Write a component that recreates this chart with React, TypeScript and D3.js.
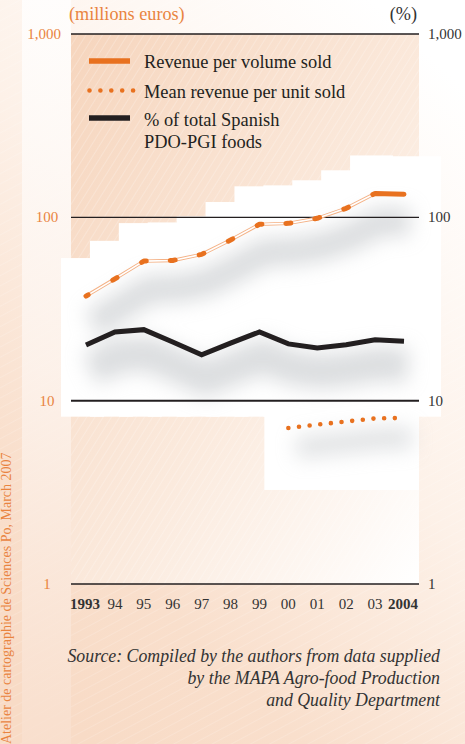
import React from "react";
import * as d3 from "d3";

const years = ["1993", "94", "95", "96", "97", "98", "99", "00", "01", "02", "03", "2004"];
const revenue = [37.2, 46.2, 57.7, 58.2, 62.8, 75.2, 91.6, 92.7, 98.8, 112, 135, 133.6];
const shareSpanish = [20.1, 23.7, 24.4, 20.9, 17.8, 20.6, 23.7, 20.4, 19.4, 20.2, 21.5, 21.1];
const meanYears = ["00", "01", "02", "03", "2004"];
const meanRevenue = [7.1, 7.4, 7.7, 8.0, 8.05];
const tickValues = [1000, 100, 10, 1];
const tickLabels = ["1,000", "100", "10", "1"];
const legendItems = ["Revenue per volume sold", "Mean revenue per unit sold", "% of total Spanish", "PDO-PGI foods"];
const sourceLines = [
  "Source: Compiled by the authors from data supplied",
  "by the MAPA Agro-food Production",
  "and Quality Department",
];

const W = 465;
const H = 744;
const left = 71;
const right = 419;
const orange = "#e8711f";
const labelOrange = "#e9843f";
const dark = "#231f20";
const font = "Liberation Serif";

const App = () => {
  const x = d3.scalePoint<string>().domain(years).range([86, 404]);
  const y = d3.scaleLog().domain([1, 1000]).range([584, 34]);

  const revPts: [number, number][] = revenue.map((v, i) => [x(years[i])!, y(v)]);
  const pctPts: [number, number][] = shareSpanish.map((v, i) => [x(years[i])!, y(v)]);
  const meanPts: [number, number][] = meanRevenue.map((v, i) => [x(meanYears[i])!, y(v)]);

  const line = d3.line();
  const revPath = line(revPts)!;
  const pctPath = line(pctPts)!;
  const meanPath = line(meanPts)!;

  // dashes centred on each yearly point, last segment solid
  const h = 2.5;
  const lens = revPts.slice(1).map((p, i) => Math.hypot(p[0] - revPts[i][0], p[1] - revPts[i][1]));
  const dash: number[] = [h];
  for (let k = 0; k < lens.length - 2; k++) dash.push(lens[k] - 2 * h, 2 * h);
  dash.push(lens[lens.length - 2] - 2 * h, h + lens[lens.length - 1]);

  // white backing blocks following the series
  const blocks = years.map((yr, i) => {
    const cx = x(yr)!;
    const top = y(revenue[i]) - 38;
    const bottom = y(10) + 16;
    const x1 = i === years.length - 1 ? right + 22 : cx + 18;
    return { x0: cx - 25, x1, top, bottom };
  });
  const meanBlock = {
    x0: x("00")! - 24,
    x1: right,
    top: y(10) - 6,
    bottom: y(meanRevenue[0]) + 62,
  };

  return (
    <svg width={W} height={H} style={{ position: "absolute", left: 0, top: 0 }}>
      <defs>
        <linearGradient id="pageBg" x1="0.8" y1="0" x2="0.2" y2="1">
          <stop offset="0" stopColor="#ffffff" />
          <stop offset="0.45" stopColor="#fdf1e8" />
          <stop offset="0.8" stopColor="#f9dfcc" />
          <stop offset="1" stopColor="#f8dbc6" />
        </linearGradient>
        <linearGradient id="plotBg" x1="0" y1="0" x2="1" y2="1">
          <stop offset="0" stopColor="#f6d5bd" />
          <stop offset="0.55" stopColor="#fbeadd" />
          <stop offset="1" stopColor="#ffffff" />
        </linearGradient>
        <linearGradient id="bandBg" x1="0" y1="0" x2="0" y2="1">
          <stop offset="0" stopColor="#ffffff" />
          <stop offset="0.5" stopColor="#fdf4ee" />
          <stop offset="1" stopColor="#f9e0cf" />
        </linearGradient>
        <pattern id="hatch" width="7" height="7" patternUnits="userSpaceOnUse" patternTransform="rotate(32)">
          <line x1="0" y1="0" x2="0" y2="7" stroke="#ffffff" strokeWidth="0.8" strokeOpacity="0.55" />
        </pattern>
        <pattern id="hatch2" width="9" height="9" patternUnits="userSpaceOnUse" patternTransform="rotate(62)">
          <line x1="0" y1="0" x2="0" y2="9" stroke="#ffffff" strokeWidth="0.7" strokeOpacity="0.45" />
        </pattern>
        <filter id="blur" x="-30%" y="-100%" width="160%" height="300%">
          <feGaussianBlur stdDeviation="10" />
        </filter>
      </defs>

      {/* backgrounds */}
      <rect width={W} height={H} fill="url(#pageBg)" />
      <rect width={W} height={H} fill="url(#hatch2)" />
      <rect x={22} y={0} width={left - 22} height={H} fill="url(#bandBg)" opacity={0.8} />
      <rect x={left} y={y(1000)} width={right - left} height={y(1) - y(1000)} fill="url(#plotBg)" />
      <rect x={left} y={y(1000)} width={right - left} height={y(1) - y(1000)} fill="url(#hatch)" />

      {blocks.map((b, i) => (
        <rect key={i} x={b.x0} y={b.top} width={b.x1 - b.x0} height={b.bottom - b.top} fill="#ffffff" />
      ))}
      <rect
        x={meanBlock.x0}
        y={meanBlock.top}
        width={meanBlock.x1 - meanBlock.x0}
        height={meanBlock.bottom - meanBlock.top}
        fill="#ffffff"
      />

      {/* shadows */}
      <g filter="url(#blur)" opacity={0.5}>
        <path d={revPath} transform="translate(6,28)" fill="none" stroke="#b8bcc0" strokeWidth={28} />
        <path d={pctPath} transform="translate(4,24)" fill="none" stroke="#b8bcc0" strokeWidth={34} />
        <path d={meanPath} transform="translate(8,20)" fill="none" stroke="#c4c7ca" strokeWidth={22} />
      </g>

      {/* grid lines */}
      {tickValues.map((v) => (
        <line key={v} x1={left} x2={right} y1={y(v)} y2={y(v)} stroke={dark} strokeWidth={v === 10 ? 2 : 1.4} />
      ))}

      {/* axis titles */}
      <text x={69} y={20} fontFamily={font} fontSize={18.2} fill={labelOrange}>(millions euros)</text>
      <text x={417} y={20} fontFamily={font} fontSize={18.2} fill="#333" textAnchor="end">(%)</text>

      {tickValues.map((v, i) => (
        <text key={"l" + v} x={i === 0 ? 61 : 47} y={y(v) + 5} fontFamily={font} fontSize={15}
          fill={labelOrange} textAnchor={i === 0 ? "end" : "middle"}>
          {tickLabels[i]}
        </text>
      ))}
      {tickValues.map((v, i) => (
        <text key={"r" + v} x={428} y={y(v) + 5} fontFamily={font} fontSize={15} fill="#333">
          {tickLabels[i]}
        </text>
      ))}

      {years.map((yr, i) => (
        <text key={yr} x={x(yr)! - (i === 0 || i === years.length - 1 ? 1 : 0)} y={609}
          fontFamily={font} fontSize={15} fill="#333" textAnchor="middle"
          fontWeight={i === 0 || i === years.length - 1 ? "bold" : "normal"}>
          {yr}
        </text>
      ))}

      {/* series */}
      <path d={revPath} fill="none" stroke="#f4b185" strokeWidth={3.4} />
      <path d={revPath} fill="none" stroke="#ffffff" strokeWidth={1.6} />
      <path d={revPath} fill="none" stroke={orange} strokeWidth={5} strokeLinecap="round"
        strokeLinejoin="round" strokeDasharray={dash.join(" ")} />

      <path d={pctPath} fill="none" stroke={dark} strokeWidth={5} strokeLinejoin="miter" />

      <path d={meanPath} fill="none" stroke={orange} strokeWidth={4.6} strokeLinecap="round"
        strokeDasharray="0 10.7" />

      {/* legend */}
      <line x1={89} x2={130} y1={61} y2={61} stroke={orange} strokeWidth={5.5} />
      <line x1={89.5} x2={134} y1={90.5} y2={90.5} stroke={orange} strokeWidth={4.6}
        strokeLinecap="round" strokeDasharray="0 10.9" />
      <line x1={89} x2={130} y1={118} y2={118} stroke={dark} strokeWidth={5.5} />
      <text x={144} y={68} fontFamily={font} fontSize={18.4} fill={dark}>{legendItems[0]}</text>
      <text x={144} y={97.5} fontFamily={font} fontSize={18.4} fill={dark}>{legendItems[1]}</text>
      <text x={144} y={126} fontFamily={font} fontSize={18.4} fill={dark}>{legendItems[2]}</text>
      <text x={144} y={148} fontFamily={font} fontSize={18.4} fill={dark}>{legendItems[3]}</text>

      {/* source */}
      {sourceLines.map((s, i) => (
        <text key={i} x={440} y={662 + i * 22} fontFamily={font} fontSize={17.8} fontStyle="italic"
          fill="#333" textAnchor="end">
          {s}
        </text>
      ))}

      <text transform="translate(11,744) rotate(-90)" fontFamily={font} fontSize={14} fill={labelOrange}>
        Atelier de cartographie de Sciences Po, March 2007
      </text>
    </svg>
  );
};

export default App;
